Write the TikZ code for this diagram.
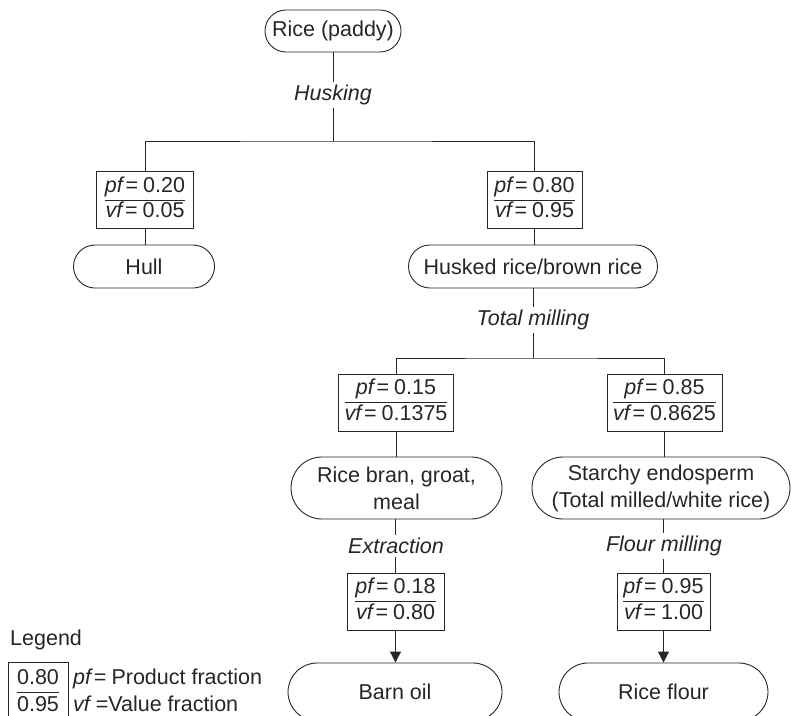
\documentclass[tikz,border=0pt]{standalone}
\usepackage{fontspec}
\setmainfont{Liberation Sans}
\usetikzlibrary{shapes.misc,arrows.meta}
\definecolor{ink}{HTML}{262626}
\setlength{\arrayrulewidth}{0.9pt}
\newcommand{\frc}[2]{\begin{tabular}{@{}c@{}}#1\\\hline #2\end{tabular}}
\newcommand{\pv}[2]{\frc{\textit{pf}\kern1pt=\kern5pt#1}{\textit{vf}\kern1pt=\kern5pt#2}}
\begin{document}
\begin{tikzpicture}[x=1pt,y=-1pt,
  every node/.style={text=ink,font=\fontsize{21.5}{25}\selectfont},
  line/.style={draw=ink,line width=0.9pt},
  prod/.style={line,rounded rectangle,inner sep=0pt,align=center,font=\fontsize{21.5}{27}\selectfont},
  fracbox/.style={line,rectangle,inner xsep=0pt,inner ysep=3pt,minimum height=57pt},
  oplabel/.style={fill=white,inner sep=3pt,font=\fontsize{21.5}{25}\selectfont\itshape},
  arr/.style={line,-{Triangle[width=11pt,length=11pt]}}]
\useasboundingbox (0,0) rectangle (792,715);
\clip (0,0) rectangle (792,715);
% nodes
\node[prod,minimum width=136pt,minimum height=42pt] (rice) at (333,31) {Rice (paddy)};
\coordinate (j1) at (333,141);
\node[fracbox,minimum width=97pt] (pfA) at (145,200) {\pv{0.20}{0.05}};
\node[fracbox,minimum width=95pt] (pfB) at (534.5,200) {\pv{0.80}{0.95}};
\node[prod,minimum width=141pt,minimum height=43pt] (hull) at (144,266.5) {Hull};
\node[prod,minimum width=249pt,minimum height=43pt] (husked) at (533,266.5) {Husked rice/brown rice};
\coordinate (j2) at (533,358);
\node[fracbox,minimum width=115pt] (pfC) at (396,402.5) {\pv{0.15}{0.1375}};
\node[fracbox,minimum width=115pt] (pfD) at (664.5,402.5) {\pv{0.85}{0.8625}};
\node[prod,minimum width=211pt,minimum height=62pt] (bran) at (396.5,488) {Rice bran, groat,\\meal};
\node[prod,minimum width=258pt,minimum height=62pt] (starchy) at (661,488) {Starchy endosperm\\(Total milled/white rice)};
\node[fracbox,minimum width=97pt] (pfE) at (395.5,601.5) {\pv{0.18}{0.80}};
\node[fracbox,minimum width=93pt] (pfF) at (663.5,601.5) {\pv{0.95}{1.00}};
\node[prod,minimum width=214pt,minimum height=58pt] (oil) at (395,692) {Barn oil};
\node[prod,minimum width=209pt,minimum height=58pt] (flour) at (663.5,692) {Rice flour};
% connectors
\draw[line] (rice.south) -- (j1);
\draw[line] (pfA.north) |- (j1) -| (pfB.north);
\draw[line] (pfA.south) -- (pfA.south |- hull.north);
\draw[line] (pfB.south) -- (pfB.south |- husked.north);
\draw[line] (husked.south) -- (j2);
\draw[line] (pfC.north) |- (j2) -| (pfD.north);
\draw[line] (pfC.south) -- (pfC.south |- bran.north);
\draw[line] (pfD.south) -- (pfD.south |- starchy.north);
\draw[line] (bran.south -| pfE.north) -- (pfE.north);
\draw[line] (starchy.south -| pfF.north) -- (pfF.north);
\draw[arr] (pfE.south) -- (pfE.south |- oil.north);
\draw[arr] (pfF.south) -- (pfF.south |- flour.north);
% operation labels
\node[oplabel] (lhusk) at (333,95) {Husking};
\node[oplabel] (ltm) at (533,320) {Total milling};
\node[oplabel] (lext) at (396,546) {Extraction};
\node[oplabel] (lfm) at (664,546) {Flour milling};
% legend
\node[anchor=west,inner sep=0pt] (leg) at (10,640) {Legend};
\node[line,rectangle,anchor=north,inner xsep=5pt,inner ysep=5pt,minimum width=60pt] (legbox) at (38,661.5)
  {\frc{0.80}{\rule{0pt}{19pt}0.95}};
\node[anchor=base west,inner sep=0pt] (legpf) at (73,684) {\textit{pf}\kern1pt=\kern5pt Product fraction};
\node[anchor=base west,inner sep=0pt] (legvf) at (73,711.5) {\textit{vf}\kern4pt=Value fraction};
\end{tikzpicture}
\end{document}
